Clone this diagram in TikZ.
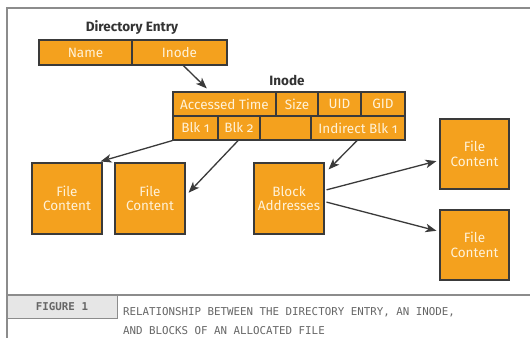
\documentclass[tikz,border=0pt]{standalone}
\usepackage{fontspec}
\setmainfont{Fira Sans}[Numbers=OldStyle]
\newfontfamily\capfont{DejaVu Sans Mono}
\usetikzlibrary{arrows.meta,calc}
\definecolor{orng}{HTML}{F4A11E}
\definecolor{edge}{HTML}{3A3A3A}
\definecolor{txtw}{HTML}{FFF2D8}
\definecolor{framec}{HTML}{8C8C8C}
\definecolor{capgray}{HTML}{E6E6E6}
\definecolor{captxt}{HTML}{666666}
\definecolor{ttl}{HTML}{333333}
\begin{document}
\begin{tikzpicture}[x=1pt,y=-1pt,
  cell/.style={draw=edge,line width=1.1pt,fill=orng,text=txtw,inner sep=0pt,
    font=\fontsize{13.5}{14.5}\selectfont,align=center},
  ttlstyle/.style={text=ttl,font=\fontsize{13.5}{15}\selectfont\bfseries,inner sep=0pt},
  arr/.style={-{Stealth[length=11pt,width=8.5pt,inset=3pt]},line width=1.3pt,draw=edge},
  framel/.style={draw=framec,line width=1.3pt},
  captext/.style={text=captxt,font=\capfont\fontsize{10.8}{13}\selectfont,inner sep=0pt,anchor=base west}]
\useasboundingbox (0,0) rectangle (530,338);
\fill[white] (0,0) rectangle (530,338);
% frame
\draw[framel] (530,8) -- (7,8) -- (7,338);
\draw[framel] (7,295) -- (530,295);
\node[draw=framec,line width=1pt,fill=capgray,minimum width=110pt,minimum height=23pt,inner sep=0pt,
  text=captxt,font=\capfont\bfseries\fontsize{10.8}{13}\selectfont] (figbox) at (62,306.5) {FIGURE 1};
\node[captext] (cap1) at (123,315) {RELATIONSHIP BETWEEN THE DIRECTORY ENTRY, AN INODE,};
\node[captext] (cap2) at (123,334) {AND BLOCKS OF AN ALLOCATED FILE};
% titles
\node[ttlstyle] (dirttl) at (132,28) {Directory Entry};
\node[ttlstyle] (inodettl) at (287,80) {Inode};
% directory entry
\node[cell,minimum width=93pt,minimum height=25pt] (dname) at (85.5,52.5) {Name};
\node[cell,minimum width=95pt,minimum height=25pt] (dinode) at (179.5,52.5) {Inode};
% inode
\node[cell,minimum width=103pt,minimum height=24pt] (atime) at (224.5,104) {Accessed Time};
\node[cell,minimum width=42pt,minimum height=24pt] (size) at (297,104) {Size};
\node[cell,minimum width=43pt,minimum height=24pt] (uid) at (339.5,104) {UID};
\node[cell,minimum width=44pt,minimum height=24pt] (gid) at (383,104) {GID};
\node[cell,minimum width=45pt,minimum height=24pt] (blk1) at (195.5,128) {Blk 1};
\node[cell,minimum width=42pt,minimum height=24pt] (blk2) at (239,128) {Blk 2};
\node[cell,minimum width=51pt,minimum height=24pt] (blank) at (285.5,128) {};
\node[cell,minimum width=94pt,minimum height=24pt] (indir) at (358,128) {Indirect Blk 1};
% content boxes
\node[cell,minimum width=70pt,minimum height=71pt] (fc1) at (67,198.5) {File\\Content};
\node[cell,minimum width=70pt,minimum height=71pt] (fc2) at (150,198.5) {File\\Content};
\node[cell,minimum width=70pt,minimum height=71pt] (ba) at (289,198.5) {Block\\Addresses};
\node[cell,minimum width=69pt,minimum height=70pt] (fc3) at (474.5,154) {File\\Content};
\node[cell,minimum width=69pt,minimum height=70pt] (fc4) at (474.5,245) {File\\Content};
% arrows
\draw[arr] ($(dinode.south west)!0.54!(dinode.south east)$) -- ($(atime.north west)!0.33!(atime.north east)+(0,-3)$);
\draw[arr] (blk1.south west) -- ($(fc1.north east)+(-2,-1)$);
\draw[arr] ($(blk2.south west)!0.48!(blk2.south east)$) -- ($(fc2.north east)!0.42!(fc2.south east)+(3,0)$);
\draw[arr] ($(indir.south west)!0.49!(indir.south east)$) -- ($(ba.north east)+(4,7)$);
\draw[arr] ($(ba.north east)!0.38!(ba.south east)+(2,0)$) -- ($(fc3.north west)!0.6!(fc3.south west)+(-3,0)$);
\draw[arr] ($(ba.north east)!0.55!(ba.south east)+(2,0)$) -- ($(fc4.north west)!0.3!(fc4.south west)+(-3,0)$);
\end{tikzpicture}
\end{document}
